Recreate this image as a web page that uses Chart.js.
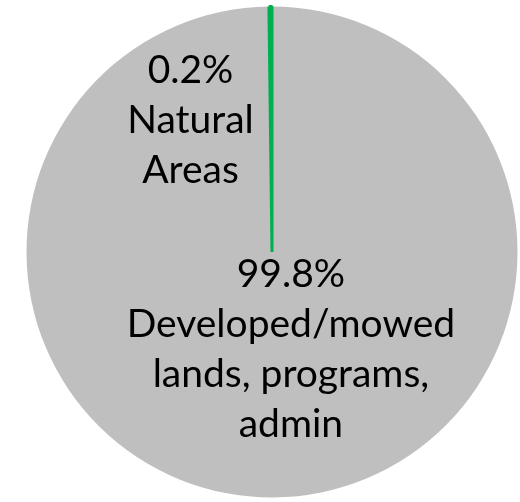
<!DOCTYPE html>
<html>
<head>
<meta charset="utf-8">
<script src="https://cdn.jsdelivr.net/npm/chart.js@4/dist/chart.umd.min.js"></script>
<style>
  html, body { margin: 0; padding: 0; background: #ffffff; }
  #wrap { width: 520px; height: 502px; position: relative; }
</style>
</head>
<body>
<div id="wrap"><canvas id="c" width="520" height="502"></canvas></div>
<script>
// ---- data ----
const categories = [
  ['Developed/mowed', 'lands, programs,', 'admin'],
  ['Natural', 'Areas']
];
const values = [99.8, 0.2];
const valueLabels = ['99.8%', '0.2%'];
const sliceColors = ['#BFBFBF', '#00B050'];

// label placement relative to pie centre (fractions of radius)
const labelAnchors = [
  { dx: 0.077, dy: 0.142 },
  { dx: -0.332, dy: -0.688 }
];

const FONT = '"Lato", "Open Sans", sans-serif';

const labelPlugin = {
  id: 'sliceLabels',
  afterDatasetsDraw(chart) {
    const ctx = chart.ctx;
    const meta = chart.getDatasetMeta(0);
    const arc = meta.data[0];
    const cx = arc.x, cy = arc.y, r = arc.outerRadius;
    ctx.save();
    ctx.fillStyle = '#000000';
    ctx.textAlign = 'center';
    ctx.textBaseline = 'alphabetic';
    ctx.font = '39px ' + FONT;
    const lh = 50;
    categories.forEach((cat, i) => {
      const lines = [valueLabels[i]].concat(cat);
      const x = cx + labelAnchors[i].dx * r;
      const y0 = cy + labelAnchors[i].dy * r;
      lines.forEach((t, k) => ctx.fillText(t, x, y0 + k * lh));
    });
    ctx.restore();
  }
};

new Chart(document.getElementById('c'), {
  type: 'pie',
  data: {
    labels: categories,
    datasets: [{
      data: values,
      backgroundColor: sliceColors,
      borderColor: sliceColors,
      borderWidth: [0, 3]
    }]
  },
  options: {
    responsive: false,
    animation: false,
    layout: { padding: { left: 25, right: 1, top: 5, bottom: 3 } },
    plugins: {
      legend: { display: false },
      tooltip: { enabled: false },
      title: { display: false }
    }
  },
  plugins: [labelPlugin]
});
</script>
</body>
</html>
